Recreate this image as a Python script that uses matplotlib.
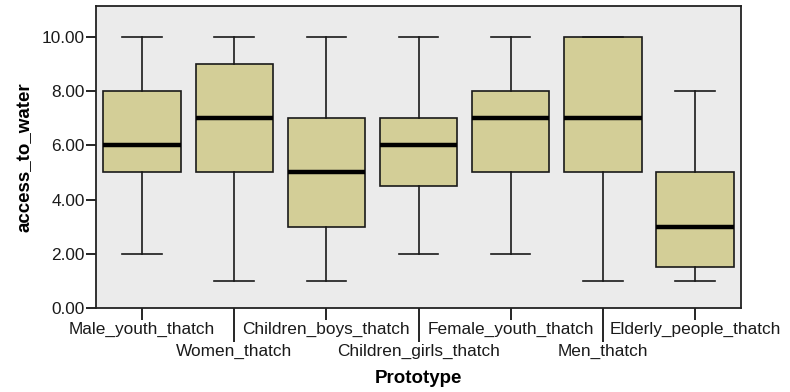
import matplotlib.pyplot as plt

plt.rcParams["font.family"] = ["Liberation Sans", "DejaVu Sans"]

categories = ["Male_youth_thatch", "Women_thatch", "Children_boys_thatch",
              "Children_girls_thatch", "Female_youth_thatch", "Men_thatch",
              "Elderly_people_thatch"]
whislo = [2, 1, 1, 2, 2, 1, 1]
q1 = [5, 5, 3, 4.5, 5, 5, 1.5]
med = [6, 7, 5, 6, 7, 7, 3]
q3 = [8, 9, 7, 7, 8, 10, 5]
whishi = [10, 10, 10, 10, 10, 10, 8]

stats = []
for i in range(len(categories)):
    stats.append({"whislo": whislo[i], "q1": q1[i], "med": med[i],
                  "q3": q3[i], "whishi": whishi[i], "fliers": []})

fig = plt.figure(figsize=(7.9, 3.92), dpi=100)
ax = fig.add_axes([0.1215, 0.2143, 0.8165, 0.7704])
ax.set_facecolor("#EBEBEB")

ax.bxp(stats, positions=range(len(categories)), widths=0.84,
       patch_artist=True, showfliers=False,
       boxprops=dict(facecolor="#D3CE97", edgecolor="#1a1a1a", linewidth=1.2),
       medianprops=dict(color="black", linewidth=3.2),
       whiskerprops=dict(color="#1a1a1a", linewidth=1.2),
       capprops=dict(color="#1a1a1a", linewidth=1.2), capwidths=0.43)

ax.set_xlim(-0.5, len(categories) - 0.5)
ax.set_ylim(0, 11.14)
ax.set_yticks([0, 2, 4, 6, 8, 10])
ax.set_yticklabels(["%.2f" % v for v in [0, 2, 4, 6, 8, 10]], fontsize=12.4,
                   color="#1a1a1a")

even = list(range(0, len(categories), 2))
odd = list(range(1, len(categories), 2))
ax.set_xticks(even)
ax.set_xticklabels([categories[i] for i in even], fontsize=12.4, color="#1a1a1a")
ax.set_xticks(odd, minor=True)
ax.set_xticklabels([categories[i] for i in odd], minor=True, fontsize=12.4,
                   color="#1a1a1a")
ax.tick_params(axis="x", which="major", length=8.6, width=1.2, pad=1.5)
ax.tick_params(axis="x", which="minor", length=24.5, width=1.2, pad=1.5)
ax.tick_params(axis="y", length=7, width=1.2, pad=1)

for s in ax.spines.values():
    s.set_linewidth(1.3)
    s.set_color("#222222")

ax.set_ylabel("access_to_water", fontsize=13.5, fontweight="bold", labelpad=6)
ax.set_xlabel("Prototype", fontsize=13.5, fontweight="bold", labelpad=8)

fig.savefig("out.png", dpi=100)
